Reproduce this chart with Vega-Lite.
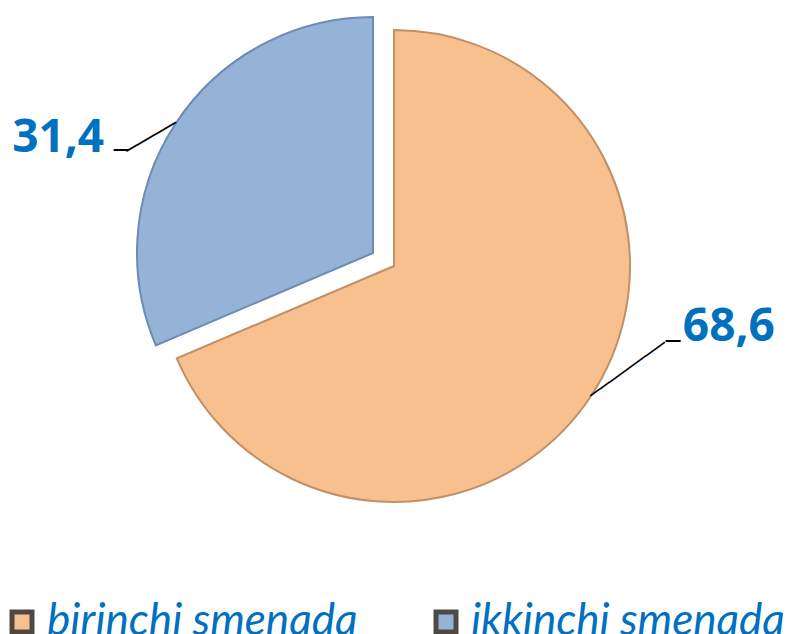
{
  "$schema": "https://vega.github.io/schema/vega-lite/v6.json",
  "width": 788,
  "height": 532,
  "autosize": {"type": "pad"},
  "padding": 0,
  "background": "white",
  "config": {
    "view": {"stroke": null},
    "locale": {"number": {"decimal": ",", "thousands": " ", "grouping": [3], "currency": ["", ""]}}
  },
  "data": {
    "values": [
      {"name": "birinchi smenada", "value": 68.6, "idx": 1},
      {"name": "ikkinchi smenada", "value": 31.4, "idx": 2}
    ]
  },
  "transform": [
    {"stack": "value", "groupby": [], "sort": [{"field": "idx", "order": "ascending"}], "as": ["v0", "v1"]}
  ],
  "layer": [
    {
      "transform": [{"filter": "datum.name === 'birinchi smenada'"}],
      "mark": {"type": "arc", "outerRadius": 236, "stroke": "#c09066", "strokeWidth": 2},
      "encoding": {
        "theta": {"field": "v0", "type": "quantitative", "scale": {"domain": [0, 100]}},
        "theta2": {"field": "v1"},
        "color": {
          "field": "name",
          "type": "nominal",
          "scale": {"domain": ["birinchi smenada", "ikkinchi smenada"], "range": ["#F9C08F", "#95B3D7"]},
          "legend": {
            "orient": "none",
            "legendX": 0,
            "legendY": 600,
            "padding": 0,
            "direction": "horizontal",
            "title": null,
            "symbolType": "square",
            "symbolSize": 400,
            "symbolStrokeColor": "#4f4943",
            "symbolStrokeWidth": 5,
            "labelFontSize": 44,
            "labelFont": "Lato",
            "labelFontStyle": "italic",
            "labelColor": "#0070C0",
            "labelLimit": 0,
            "labelOffset": 3,
            "columnPadding": 66
          }
        }
      }
    },
    {
      "transform": [{"filter": "datum.name === 'ikkinchi smenada'"}],
      "mark": {"type": "arc", "outerRadius": 236, "stroke": "#6d8bb3", "strokeWidth": 2, "xOffset": -21, "yOffset": -13},
      "encoding": {
        "theta": {"field": "v0", "type": "quantitative", "scale": {"domain": [0, 100]}},
        "theta2": {"field": "v1"},
        "color": {"field": "name", "type": "nominal", "legend": null}
      }
    },
    {
      "mark": {"type": "text", "radius": 236, "align": "left", "baseline": "middle", "dx": 92, "dy": -69, "font": "Open Sans", "fontWeight": "bold", "fontSize": 46, "fill": "#0070C0"},
      "encoding": {
        "theta": {"field": "value", "type": "quantitative", "stack": true, "scale": {"domain": [0, 100]}},
        "order": {"field": "idx"},
        "text": {"field": "value", "type": "quantitative", "format": ".1f"},
        "opacity": {"condition": {"test": "datum.name === 'birinchi smenada'", "value": 1}, "value": 0}
      }
    },
    {
      "mark": {"type": "text", "radius": 236, "align": "right", "baseline": "middle", "dx": -72, "dy": 15, "xOffset": -21, "yOffset": -13, "font": "Open Sans", "fontWeight": "bold", "fontSize": 46, "fill": "#0070C0"},
      "encoding": {
        "theta": {"field": "value", "type": "quantitative", "stack": true, "scale": {"domain": [0, 100]}},
        "order": {"field": "idx"},
        "text": {"field": "value", "type": "quantitative", "format": ".1f"},
        "opacity": {"condition": {"test": "datum.name === 'ikkinchi smenada'", "value": 1}, "value": 0}
      }
    },
    {
      "mark": {"type": "text", "radius": 236, "align": "left", "baseline": "middle", "angle": -35.8, "font": "DejaVu Sans Mono", "fontSize": 19, "fill": "#000000", "text": "────────"},
      "encoding": {
        "theta": {"field": "value", "type": "quantitative", "stack": true, "scale": {"domain": [0, 100]}},
        "order": {"field": "idx"},
        "opacity": {"condition": {"test": "datum.name === 'birinchi smenada'", "value": 1}, "value": 0}
      }
    },
    {
      "mark": {"type": "text", "radius": 236, "align": "right", "baseline": "middle", "angle": -30.3, "xOffset": -21, "yOffset": -13, "font": "DejaVu Sans Mono", "fontSize": 19, "fill": "#000000", "text": "─────"},
      "encoding": {
        "theta": {"field": "value", "type": "quantitative", "stack": true, "scale": {"domain": [0, 100]}},
        "order": {"field": "idx"},
        "opacity": {"condition": {"test": "datum.name === 'ikkinchi smenada'", "value": 1}, "value": 0}
      }
    },
    {
      "mark": {"type": "text", "radius": 236, "align": "left", "baseline": "middle", "dx": 75, "dy": -54, "font": "DejaVu Sans Mono", "fontSize": 24, "fill": "#000000", "text": "─"},
      "encoding": {
        "theta": {"field": "value", "type": "quantitative", "stack": true, "scale": {"domain": [0, 100]}},
        "order": {"field": "idx"},
        "opacity": {"condition": {"test": "datum.name === 'birinchi smenada'", "value": 1}, "value": 0}
      }
    },
    {
      "mark": {"type": "text", "radius": 236, "align": "right", "baseline": "middle", "dx": -48, "dy": 28, "xOffset": -21, "yOffset": -13, "font": "DejaVu Sans Mono", "fontSize": 24, "fill": "#000000", "text": "─"},
      "encoding": {
        "theta": {"field": "value", "type": "quantitative", "stack": true, "scale": {"domain": [0, 100]}},
        "order": {"field": "idx"},
        "opacity": {"condition": {"test": "datum.name === 'ikkinchi smenada'", "value": 1}, "value": 0}
      }
    }
  ]
}
